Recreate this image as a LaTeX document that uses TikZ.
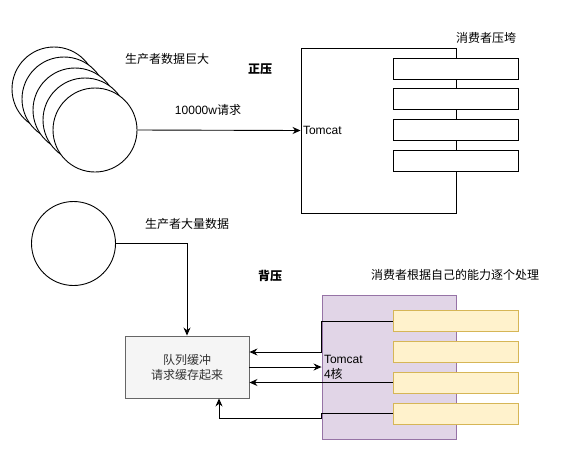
\documentclass[tikz,border=0pt]{standalone}
\usepackage{fontspec}
\setmainfont{Liberation Sans}
\newfontfamily\cjk{Noto Sans CJK SC}
\usepackage{tikz}
\usetikzlibrary{arrows.meta,positioning}
\definecolor{qfill}{HTML}{F5F5F5}
\definecolor{qdraw}{HTML}{666666}
\definecolor{qtext}{HTML}{333333}
\definecolor{pfill}{HTML}{E1D5E7}
\definecolor{pdraw}{HTML}{9673A6}
\definecolor{yfill}{HTML}{FFF2CC}
\definecolor{ydraw}{HTML}{D6B656}
\tikzset{
  producer/.style={draw,circle,fill=white,minimum size=84pt,inner sep=0pt},
  server/.style={draw,rectangle,inner sep=0pt},
  worker/.style={draw,rectangle,fill=white,minimum width=125pt,minimum height=21pt,inner sep=0pt},
  caption/.style={font=\fontsize{12}{15}\selectfont\cjk,inner sep=0pt},
}

\begin{document}
\begin{tikzpicture}[x=1pt,y=-1pt,line width=0.9pt,>={Stealth[length=8pt,width=7pt]},
    every node/.style={font=\fontsize{12}{15}\selectfont}]
      \useasboundingbox (0,0) rectangle (564,453);

      % forward pressure
      \foreach \i/\x/\y in {1/54/89,2/64/99,3/75/110,4/85/120,5/95/130}
        \node[producer] (p\i) at (\x,\y) {};

      \node[server,minimum width=155pt,minimum height=165pt] (tomcat) at (378.5,130.5) {};
      \node[anchor=west,inner sep=2pt] (tomcatlabel) at (tomcat.west) {Tomcat};

      \foreach \i/\y in {1/68.5,2/99,3/130,4/161}
        \node[worker] (c\i) at (455.5,\y) {};

      \draw[->] (p5.east) -- (tomcat.west);

      \node[caption] (bigdata) at (167,59) {生产者数据巨大};
      \node[caption,font=\fontsize{12}{15}\selectfont\cjk\bfseries] (zhengya) at (260,69) {正压};
      \node[inner sep=0pt] (requests) at (208,110) {10000w{\cjk 请求}};
      \node[caption] (crushed) at (486,38) {消费者压垮};

      % back pressure
      \node[producer] (q) at (73.5,243.5) {};
      \node[server,fill=qfill,draw=qdraw,text=qtext,align=center,minimum width=124pt,minimum height=62pt,font=\fontsize{12}{15}\selectfont\cjk] (queue) at (187,367) {队列缓冲\\请求缓存起来};

      \node[server,fill=pfill,draw=pdraw,minimum width=134pt,minimum height=144pt] (tomcat4) at (389,367) {};
      \node[anchor=west,align=left,inner sep=2pt] (tomcat4label) at (tomcat4.west) {Tomcat\\4{\cjk 核}};

      \foreach \i/\y in {1/321,2/351.5,3/382.5,4/413.5}
        \node[worker,fill=yfill,draw=ydraw] (w\i) at (455.5,\y) {};

      \draw[->] (q.east) -| (queue.north);
      \draw[->] (w1.west) -- (w1.west -| tomcat4.west) |- ([yshift=15pt]queue.east);
      \draw[->] (queue.east) -- (tomcat4.west);
      \draw[->] (w3.west) -- (w3.west -| queue.east);
      \coordinate (qin) at ([xshift=32pt]queue.south);
      \draw[->] (w4.west) -- (w4.west -| tomcat4.west) -- ++(0,5) -| (qin);

      \node[caption] (bigvolume) at (187,224) {生产者大量数据};
      \node[caption,font=\fontsize{12}{15}\selectfont\cjk\bfseries] (beiya) at (270,276) {背压};
      \node[caption] (onebyone) at (455,275) {消费者根据自己的能力逐个处理};
    \end{tikzpicture}
\end{document}
